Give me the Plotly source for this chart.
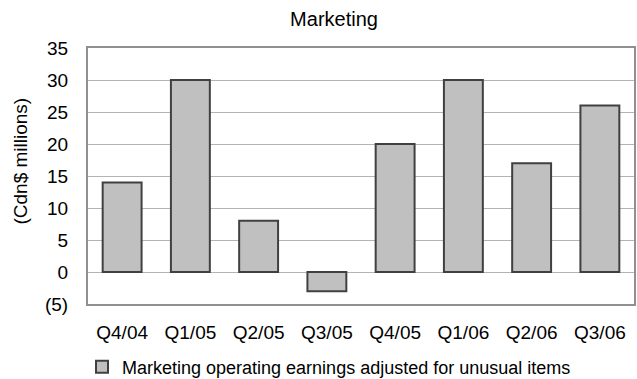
import plotly.graph_objects as go

categories = ["Q4/04", "Q1/05", "Q2/05", "Q3/05", "Q4/05", "Q1/06", "Q2/06", "Q3/06"]
values = [14, 30, 8, -3, 20, 30, 17, 26]
series_name = "Marketing operating earnings adjusted for unusual items"
y_tickvals = [-5, 0, 5, 10, 15, 20, 25, 30, 35]
y_ticktext = ["(5)", "0", "5", "10", "15", "20", "25", "30", "35"]

FONT = "Liberation Sans, Arial, sans-serif"

fig = go.Figure()
fig.add_trace(go.Bar(
    x=categories, y=values, name=series_name,
    marker=dict(color="#c0c0c0", line=dict(color="#404040", width=2)),
    showlegend=True,
))

fig.update_layout(
    width=637, height=379,
    margin=dict(l=88, r=3, t=48, b=75, autoexpand=False),
    paper_bgcolor="white", plot_bgcolor="white",
    bargap=0.43,
    font=dict(family=FONT, color="#000000", size=19),
    title=dict(text="Marketing", x=334/637, xanchor="center", y=1 - 19/379, yanchor="middle",
               font=dict(size=20, family=FONT, color="#000000")),
    showlegend=True,
    legend=dict(orientation="h", x=(329 - 88) / 546, xanchor="center",
                y=(304 - 367) / 256, yanchor="middle",
                font=dict(size=18, family=FONT, color="#000000"),
                bgcolor="rgba(0,0,0,0)"),
    annotations=[dict(text="(Cdn$ millions)", textangle=-90, xref="paper", yref="paper",
                      x=(20 - 88) / 546, y=(304 - 161.5) / 256, xanchor="center", yanchor="middle",
                      showarrow=False, font=dict(size=19, family=FONT, color="#000000"))],
)

fig.update_xaxes(
    showline=True, mirror=True, linecolor="#909090", linewidth=2,
    ticks="outside", ticklen=10, tickcolor="rgba(0,0,0,0)",
    tickfont=dict(size=19, family=FONT, color="#000000"),
    showgrid=False,
)
fig.update_yaxes(
    range=[-5, 35], tickvals=y_tickvals, ticktext=y_ticktext,
    showline=True, mirror=True, linecolor="#909090", linewidth=2,
    ticks="outside", ticklen=14, tickcolor="rgba(0,0,0,0)",
    tickfont=dict(size=19, family=FONT, color="#000000"),
    showgrid=True, gridcolor="#b4b4b4", gridwidth=1,
    zeroline=True, zerolinecolor="#b4b4b4", zerolinewidth=1,
)

fig.write_html("out.html")
